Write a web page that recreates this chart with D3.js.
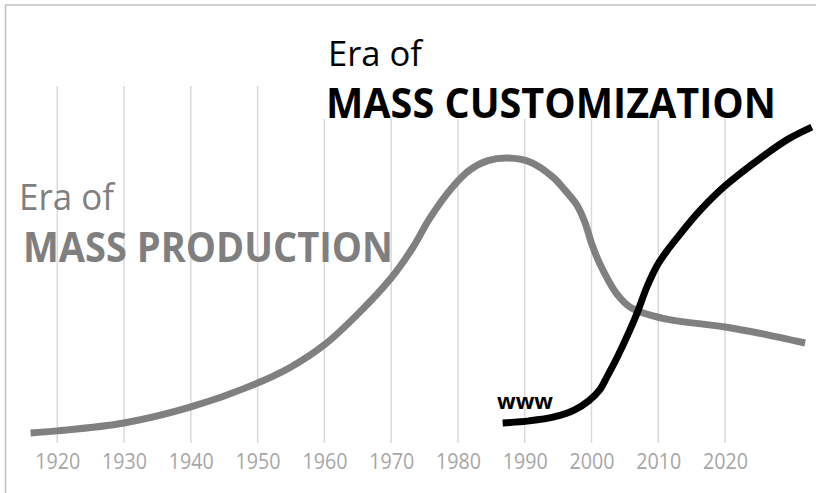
<!DOCTYPE html>
<html>
<head>
<meta charset="utf-8">
<script src="https://cdn.jsdelivr.net/npm/d3@7"></script>
<style>
  body { margin: 0; background: #fff; }
  svg { display: block; }
</style>
</head>
<body>
<svg width="816" height="493"></svg>
<script>
var tickYears = [1920, 1930, 1940, 1950, 1960, 1970, 1980, 1990, 2000, 2010, 2020]

var productionYears = [1916, 1920, 1930, 1940, 1950, 1955, 1960, 1965, 1970, 1973.3, 1975.8, 1979.2, 1981.8, 1984.5, 1987.5, 1990.8, 1994.2, 1996, 1997.8, 1999, 2000, 2001.2, 2003.7, 2006, 2010.5, 2020, 2025, 2032]
var productionValues = [2.8, 3.4, 5.6, 10.1, 16.8, 21.3, 27.5, 36.1, 46.2, 54.9, 63.0, 71.7, 76.5, 79.1, 79.8, 78.7, 74.5, 70.9, 66.7, 61.9, 56.0, 50.4, 42.0, 37.8, 35.0, 32.5, 30.8, 28.0]

var customYears = [1986.7, 1990.7, 1994.4, 1997.4, 1999.7, 2001.2, 2002.4, 2003.8, 2005.7, 2006.9, 2008.3, 2009.8, 2011.3, 2012.8, 2016.2, 2020, 2026.2, 2029.7, 2033]
var customValues = [5.6, 6.2, 7.3, 9.2, 12.0, 14.8, 18.8, 23.8, 31.4, 36.7, 43.7, 49.6, 53.8, 57.4, 65.0, 72.0, 81.0, 85.4, 88.5]

var svg = d3.select("svg")
var font = "'Open Sans', sans-serif"

let x = d3.scaleLinear().domain([1920, 2020]).range([57.3, 725])
let y = d3.scaleLinear().domain([0, 100]).range([443, 86])

// grid
svg.append("g")
    .selectAll("line")
    .data(tickYears)
    .enter().append("line")
    .attr("x1", (d) => x(d))
    .attr("x2", (d) => x(d))
    .attr("y1", y(100))
    .attr("y2", y(0))
    .attr("stroke", "#d9d9d9")
    .attr("stroke-width", 1.5)

// x axis labels
let axis = d3.axisBottom(x).tickValues(tickYears).tickFormat(d3.format("d")).tickSize(0).tickPadding(0)
let axisG = svg.append("g")
    .attr("transform", "translate(0,453)")
    .call(axis)
axisG.select(".domain").remove()
axisG.selectAll("text")
    .attr("font-family", font)
    .attr("font-size", 21)
    .attr("fill", "#a6a6a6")
    .attr("dy", "0.74em")
    .attr("textLength", 45)
    .attr("lengthAdjust", "spacingAndGlyphs")

// frame
svg.append("line").attr("x1", 5).attr("x2", 816).attr("y1", 5).attr("y2", 5)
    .attr("stroke", "#bfbfbf").attr("stroke-width", 1.5)
svg.append("line").attr("x1", 5.5).attr("x2", 5.5).attr("y1", 5).attr("y2", 493)
    .attr("stroke", "#bfbfbf").attr("stroke-width", 1.5)

let line = d3.line()
    .x((d) => x(d[0]))
    .y((d) => y(d[1]))
    .curve(d3.curveCatmullRom.alpha(0.5))

svg.append("path")
    .datum(d3.zip(productionYears, productionValues))
    .attr("d", line)
    .attr("fill", "none")
    .attr("stroke", "#808080")
    .attr("stroke-width", 7)

svg.append("path")
    .datum(d3.zip(customYears, customValues))
    .attr("d", line)
    .attr("fill", "none")
    .attr("stroke", "#000")
    .attr("stroke-width", 7)

var addText = function (txt, tx, ty, size, weight, color, len) {
    svg.append("text")
        .attr("x", tx)
        .attr("y", ty)
        .attr("font-family", font)
        .attr("font-size", size)
        .attr("font-weight", weight)
        .attr("fill", color)
        .attr("textLength", len)
        .attr("lengthAdjust", "spacingAndGlyphs")
        .text(txt)
}

// white box behind the upper label
svg.append("rect")
    .attr("x", 322).attr("y", 78).attr("width", 462).attr("height", 41)
    .attr("fill", "#fff")

addText("Era of", 328, 66, 35, 400, "#000", 94)
addText("MASS CUSTOMIZATION", 326, 118, 42, 700, "#000", 450)
addText("Era of", 19, 210, 37, 400, "#7f7f7f", 95)
addText("MASS PRODUCTION", 23, 262, 42, 700, "#7f7f7f", 370)
addText("www", 497, 409, 21, 700, "#000", 56)
</script>
</body>
</html>
